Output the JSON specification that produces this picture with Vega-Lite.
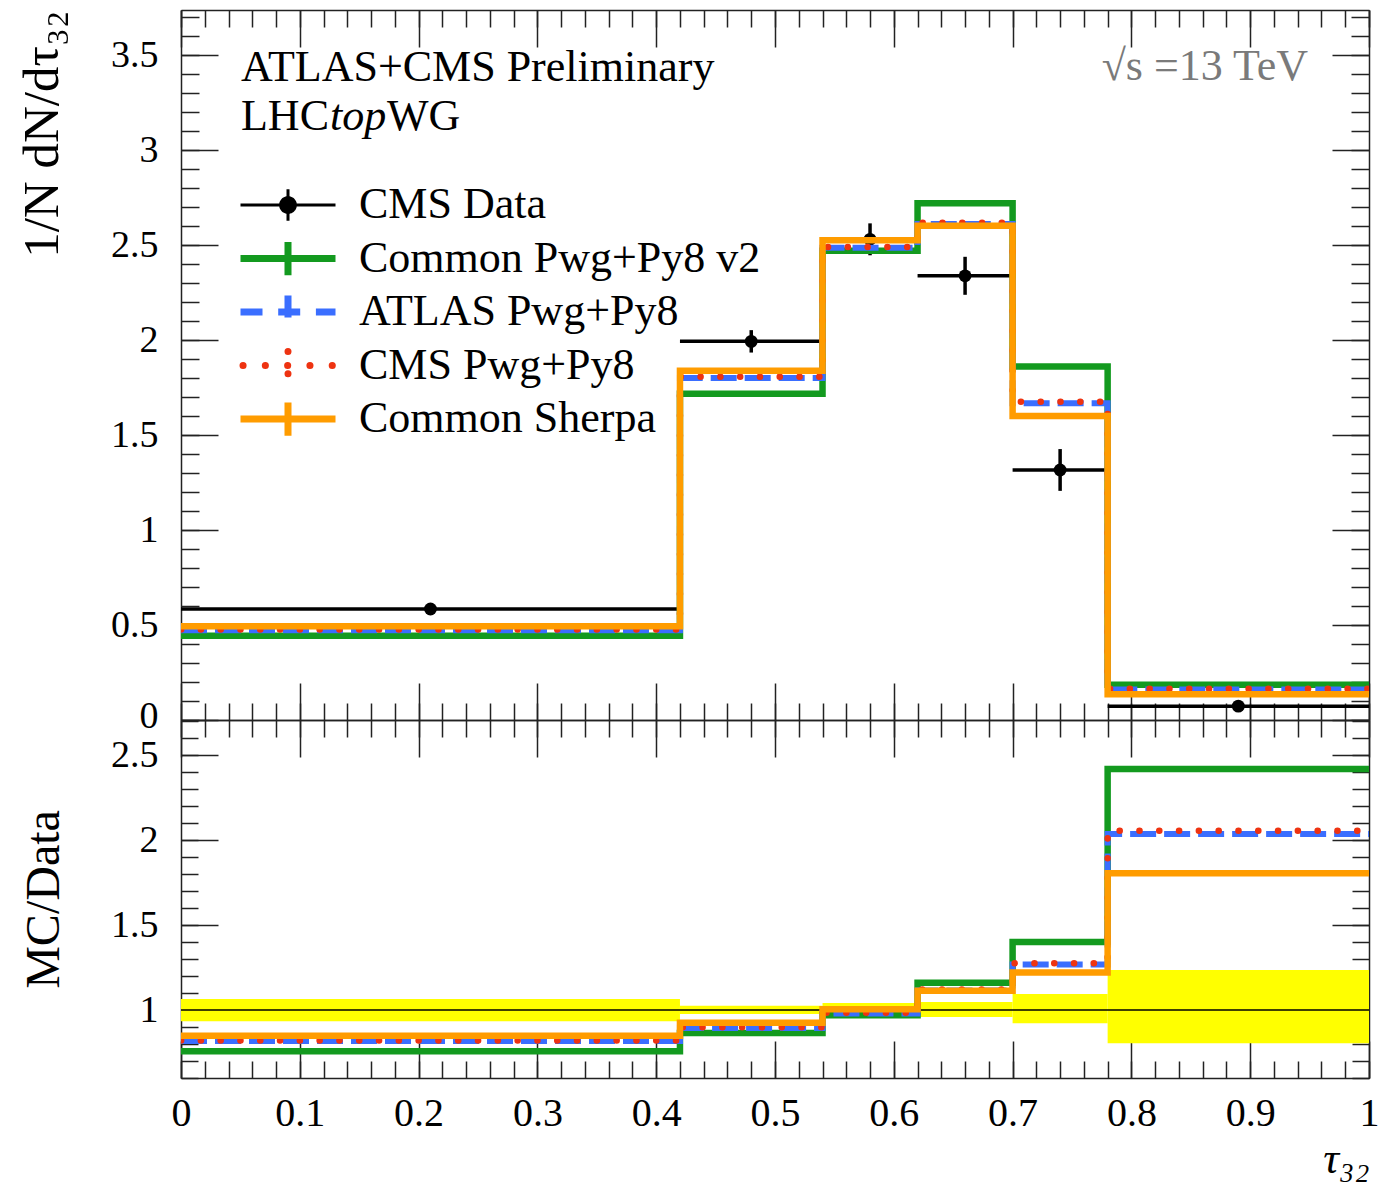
{
  "$schema": "https://vega.github.io/schema/vega-lite/v6.json",
  "width": 1188,
  "height": 1068,
  "autosize": {"type": "none"},
  "padding": {"left": 181, "top": 10, "right": 9, "bottom": 107},
  "background": "white",
  "config": {
    "view": {"stroke": null},
    "font": "Liberation Serif",
    "axis": {
      "grid": false, "domainColor": "#222", "domainWidth": 1.5, "tickColor": "#222", "tickWidth": 1.5,
      "labelFont": "Liberation Serif", "labelFontSize": 40, "labelColor": "#000", "labelFlush": false, "labelOverlap": false,
      "titleFont": "Liberation Serif", "titleFontWeight": "normal", "titleColor": "#000", "titleFontSize": 48, "format": "~g"
    }
  },
  "datasets": {
    "hist": [
      {"model": "Common Pwg+Py8 v2", "x": 0, "y": 0.443}, {"model": "Common Pwg+Py8 v2", "x": 0.42, "y": 1.717}, {"model": "Common Pwg+Py8 v2", "x": 0.54, "y": 2.47}, {"model": "Common Pwg+Py8 v2", "x": 0.62, "y": 2.72}, {"model": "Common Pwg+Py8 v2", "x": 0.70, "y": 1.86}, {"model": "Common Pwg+Py8 v2", "x": 0.78, "y": 0.185}, {"model": "Common Pwg+Py8 v2", "x": 1.0, "y": 0.185},
      {"model": "ATLAS Pwg+Py8", "x": 0, "y": 0.472}, {"model": "ATLAS Pwg+Py8", "x": 0.42, "y": 1.800}, {"model": "ATLAS Pwg+Py8", "x": 0.54, "y": 2.485}, {"model": "ATLAS Pwg+Py8", "x": 0.62, "y": 2.610}, {"model": "ATLAS Pwg+Py8", "x": 0.70, "y": 1.667}, {"model": "ATLAS Pwg+Py8", "x": 0.78, "y": 0.160}, {"model": "ATLAS Pwg+Py8", "x": 1.0, "y": 0.160},
      {"model": "CMS Pwg+Py8", "x": 0, "y": 0.476}, {"model": "CMS Pwg+Py8", "x": 0.42, "y": 1.806}, {"model": "CMS Pwg+Py8", "x": 0.54, "y": 2.490}, {"model": "CMS Pwg+Py8", "x": 0.62, "y": 2.617}, {"model": "CMS Pwg+Py8", "x": 0.70, "y": 1.675}, {"model": "CMS Pwg+Py8", "x": 0.78, "y": 0.164}, {"model": "CMS Pwg+Py8", "x": 1.0, "y": 0.164},
      {"model": "Common Sherpa", "x": 0, "y": 0.493}, {"model": "Common Sherpa", "x": 0.42, "y": 1.838}, {"model": "Common Sherpa", "x": 0.54, "y": 2.525}, {"model": "Common Sherpa", "x": 0.62, "y": 2.602}, {"model": "Common Sherpa", "x": 0.70, "y": 1.600}, {"model": "Common Sherpa", "x": 0.78, "y": 0.135}, {"model": "Common Sherpa", "x": 1.0, "y": 0.135}
    ],
    "ratio": [
      {"model": "Common Pwg+Py8 v2", "x": 0, "r": 0.757}, {"model": "Common Pwg+Py8 v2", "x": 0.42, "r": 0.865}, {"model": "Common Pwg+Py8 v2", "x": 0.54, "r": 0.969}, {"model": "Common Pwg+Py8 v2", "x": 0.62, "r": 1.160}, {"model": "Common Pwg+Py8 v2", "x": 0.70, "r": 1.400}, {"model": "Common Pwg+Py8 v2", "x": 0.78, "r": 2.418}, {"model": "Common Pwg+Py8 v2", "x": 1.0, "r": 2.418},
      {"model": "ATLAS Pwg+Py8", "x": 0, "r": 0.818}, {"model": "ATLAS Pwg+Py8", "x": 0.42, "r": 0.894}, {"model": "ATLAS Pwg+Py8", "x": 0.54, "r": 0.980}, {"model": "ATLAS Pwg+Py8", "x": 0.62, "r": 1.115}, {"model": "ATLAS Pwg+Py8", "x": 0.70, "r": 1.267}, {"model": "ATLAS Pwg+Py8", "x": 0.78, "r": 2.035}, {"model": "ATLAS Pwg+Py8", "x": 1.0, "r": 2.035},
      {"model": "CMS Pwg+Py8", "x": 0, "r": 0.821}, {"model": "CMS Pwg+Py8", "x": 0.42, "r": 0.898}, {"model": "CMS Pwg+Py8", "x": 0.54, "r": 0.984}, {"model": "CMS Pwg+Py8", "x": 0.62, "r": 1.120}, {"model": "CMS Pwg+Py8", "x": 0.70, "r": 1.275}, {"model": "CMS Pwg+Py8", "x": 0.78, "r": 2.055}, {"model": "CMS Pwg+Py8", "x": 1.0, "r": 2.055},
      {"model": "Common Sherpa", "x": 0, "r": 0.849}, {"model": "Common Sherpa", "x": 0.42, "r": 0.925}, {"model": "Common Sherpa", "x": 0.54, "r": 1.004}, {"model": "Common Sherpa", "x": 0.62, "r": 1.114}, {"model": "Common Sherpa", "x": 0.70, "r": 1.220}, {"model": "Common Sherpa", "x": 0.78, "r": 1.804}, {"model": "Common Sherpa", "x": 1.0, "r": 1.804}
    ],
    "pts": [
      {"x": 0.21, "xlo": 0, "xhi": 0.42, "y": 0.584, "ylo": 0.576, "yhi": 0.592},
      {"x": 0.48, "xlo": 0.42, "xhi": 0.54, "y": 1.993, "ylo": 1.934, "yhi": 2.052},
      {"x": 0.58, "xlo": 0.54, "xhi": 0.62, "y": 2.530, "ylo": 2.446, "yhi": 2.614},
      {"x": 0.66, "xlo": 0.62, "xhi": 0.70, "y": 2.338, "ylo": 2.238, "yhi": 2.438},
      {"x": 0.74, "xlo": 0.70, "xhi": 0.78, "y": 1.316, "ylo": 1.206, "yhi": 1.426},
      {"x": 0.89, "xlo": 0.78, "xhi": 1.0, "y": 0.073, "ylo": 0.069, "yhi": 0.077}
    ],
    "band": [
      {"xlo": 0, "xhi": 0.42, "lo": 0.934, "hi": 1.064},
      {"xlo": 0.42, "xhi": 0.54, "lo": 0.977, "hi": 1.025},
      {"xlo": 0.54, "xhi": 0.62, "lo": 0.961, "hi": 1.041},
      {"xlo": 0.62, "xhi": 0.70, "lo": 0.959, "hi": 1.047},
      {"xlo": 0.70, "xhi": 0.78, "lo": 0.922, "hi": 1.094},
      {"xlo": 0.78, "xhi": 1.0, "lo": 0.804, "hi": 1.235}
    ],
    "ref": [{"r": 1}],
    "notes": [
      {"label": "ATLAS+CMS Preliminary"}, {"label": "LHC"}, {"label": "top"}, {"label": "WG"}, {"label": "√s =13 TeV"}
    ]
  },
  "resolve": {"scale": {"y": "independent"}, "axis": {"x": "independent", "y": "independent"}},
  "layer": [
    {
      "resolve": {"axis": {"x": "independent", "y": "independent"}},
      "layer": [
        {
          "data": {"name": "pts"},
          "mark": {"type": "rule", "strokeWidth": 3.5, "color": "#000"},
          "encoding": {
            "x": {"field": "xlo", "type": "quantitative", "scale": {"domain": [0, 1], "nice": false, "zero": false},
              "axis": {"orient": "bottom", "offset": -358, "values": [0,0.1,0.2,0.3,0.4,0.5,0.6,0.7,0.8,0.9,1], "tickSize": -37, "labels": false, "title": null}},
            "x2": {"field": "xhi"},
            "y": {"field": "y", "type": "quantitative", "scale": {"domain": [0, 3.737], "range": [710, 0], "nice": false, "zero": false},
              "axis": {"orient": "left", "values": [0,0.5,1,1.5,2,2.5,3,3.5], "tickSize": -37, "labelPadding": 60, "labelFontSize": 38,
                "labelOffset": {"condition": {"test": "datum.value === 0", "value": -4}, "value": 0},
                "title": "1/N dN/dτ₃₂", "titleFontSize": 51, "titleX": -124, "titleY": 0, "titleAlign": "right", "titleBaseline": "alphabetic", "titleAngle": -90}}
          }
        },
        {
          "data": {"name": "pts"},
          "mark": {"type": "rule", "strokeWidth": 3.5, "color": "#000"},
          "encoding": {
            "x": {"field": "x", "type": "quantitative", "scale": {"domain": [0, 1], "nice": false, "zero": false},
              "axis": {"orient": "bottom", "offset": -358, "values": [0,0.02,0.04,0.06,0.08,0.1,0.12,0.14,0.16,0.18,0.2,0.22,0.24,0.26,0.28,0.3,0.32,0.34,0.36,0.38,0.4,0.42,0.44,0.46,0.48,0.5,0.52,0.54,0.56,0.58,0.6,0.62,0.64,0.66,0.68,0.7,0.72,0.74,0.76,0.78,0.8,0.82,0.84,0.86,0.88,0.9,0.92,0.94,0.96,0.98,1], "tickSize": -17, "labels": false, "domain": false, "title": null}},
            "y": {"field": "ylo", "type": "quantitative", "scale": {"domain": [0, 3.737], "range": [710, 0], "nice": false, "zero": false},
              "axis": {"orient": "left", "values": [0,0.1,0.2,0.3,0.4,0.5,0.6,0.7,0.8,0.9,1,1.1,1.2,1.3,1.4,1.5,1.6,1.7,1.8,1.9,2,2.1,2.2,2.3,2.4,2.5,2.6,2.7,2.8,2.9,3,3.1,3.2,3.3,3.4,3.5,3.6,3.7], "tickSize": -18, "labels": false, "domain": false, "title": null}},
            "y2": {"field": "yhi"}
          }
        },
        {
          "data": {"name": "pts"},
          "mark": {"type": "point", "shape": "circle", "filled": true, "size": 165, "color": "#000", "opacity": 1},
          "encoding": {
            "x": {"field": "x", "type": "quantitative", "scale": {"domain": [0, 1], "nice": false, "zero": false},
              "axis": {"orient": "top", "values": [0,0.1,0.2,0.3,0.4,0.5,0.6,0.7,0.8,0.9,1], "tickSize": -37, "labels": false, "title": null}},
            "y": {"field": "y", "type": "quantitative", "scale": {"domain": [0, 3.737], "range": [710, 0], "nice": false, "zero": false},
              "axis": {"orient": "right", "values": [0,0.5,1,1.5,2,2.5,3,3.5], "tickSize": -37, "labels": false, "title": null}}
          }
        },
        {
          "data": {"name": "hist"},
          "transform": [{"filter": "datum.model === 'Common Pwg+Py8 v2'"}],
          "mark": {"type": "line", "interpolate": "step-after", "strokeWidth": 6.5},
          "encoding": {
            "x": {"field": "x", "type": "quantitative", "scale": {"domain": [0, 1], "nice": false, "zero": false},
              "axis": {"orient": "top", "values": [0,0.02,0.04,0.06,0.08,0.1,0.12,0.14,0.16,0.18,0.2,0.22,0.24,0.26,0.28,0.3,0.32,0.34,0.36,0.38,0.4,0.42,0.44,0.46,0.48,0.5,0.52,0.54,0.56,0.58,0.6,0.62,0.64,0.66,0.68,0.7,0.72,0.74,0.76,0.78,0.8,0.82,0.84,0.86,0.88,0.9,0.92,0.94,0.96,0.98,1], "tickSize": -17, "labels": false, "domain": false, "title": null}},
            "y": {"field": "y", "type": "quantitative", "scale": {"domain": [0, 3.737], "range": [710, 0], "nice": false, "zero": false},
              "axis": {"orient": "right", "values": [0,0.1,0.2,0.3,0.4,0.5,0.6,0.7,0.8,0.9,1,1.1,1.2,1.3,1.4,1.5,1.6,1.7,1.8,1.9,2,2.1,2.2,2.3,2.4,2.5,2.6,2.7,2.8,2.9,3,3.1,3.2,3.3,3.4,3.5,3.6,3.7], "tickSize": -18, "labels": false, "domain": false, "title": null}},
            "color": {"field": "model", "type": "nominal",
              "scale": {"domain": ["CMS Data", "Common Pwg+Py8 v2", "ATLAS Pwg+Py8", "CMS Pwg+Py8", "Common Sherpa"], "range": ["#000000", "#139A1F", "#3A6EFF", "#EE3311", "#FF9C00"]},
              "legend": {
                "orient": "none", "legendX": 85, "legendY": 173, "title": null, "padding": 0, "offset": 0,
                "symbolType": "M-1,0H1M0,-0.35V0.35", "symbolSize": 9025, "symbolStrokeWidth": 7,
                "labelFont": "Liberation Serif", "labelFontSize": 44, "labelColor": "#000", "labelOffset": 49, "labelLimit": 0, "rowPadding": 9.5,
                "encode": {"symbols": {"update": {
                  "shape": {"signal": "datum.value === 'CMS Data' ? 'M-1,0H1M0,-0.33V0.33M-0.155,0A0.155,0.155 0 1 1 0.155,0A0.155,0.155 0 1 1 -0.155,0Z' : 'M-1,0H1M0,-0.35V0.35'"},
                  "fill": {"signal": "datum.value === 'CMS Data' ? '#000' : 'transparent'"},
                  "strokeWidth": {"signal": "datum.value === 'CMS Data' ? 3 : 7"},
                  "strokeDash": {"signal": "datum.value === 'ATLAS Pwg+Py8' ? [22, 15.7] : datum.value === 'CMS Pwg+Py8' ? [0.1, 22.2] : [1, 0]"},
                  "strokeDashOffset": {"signal": "datum.value === 'CMS Pwg+Py8' ? -2.5 : 0"},
                  "strokeCap": {"signal": "datum.value === 'CMS Pwg+Py8' ? 'round' : 'butt'"},
                  "strokeJoin": {"value": "round"}
                }}}
              }}
          }
        },
        {
          "data": {"name": "hist"},
          "transform": [{"filter": "datum.model === 'ATLAS Pwg+Py8'"}],
          "mark": {"type": "line", "interpolate": "step-after", "strokeWidth": 6, "color": "#3A6EFF", "strokeDash": [26, 8]},
          "encoding": {
            "x": {"field": "x", "type": "quantitative", "axis": null},
            "y": {"field": "y", "type": "quantitative", "axis": null}
          }
        },
        {
          "data": {"name": "hist"},
          "transform": [{"filter": "datum.model === 'CMS Pwg+Py8'"}],
          "mark": {"type": "line", "interpolate": "step-after", "strokeWidth": 6.5, "color": "#EE3311", "strokeDash": [0.1, 19.7], "strokeCap": "round", "clip": true},
          "encoding": {
            "x": {"field": "x", "type": "quantitative", "axis": null},
            "y": {"field": "y", "type": "quantitative", "axis": null}
          }
        },
        {
          "data": {"name": "hist"},
          "transform": [{"filter": "datum.model === 'Common Sherpa'"}],
          "mark": {"type": "line", "interpolate": "step-after", "strokeWidth": 6.5, "color": "#FF9C00"},
          "encoding": {
            "x": {"field": "x", "type": "quantitative", "axis": null},
            "y": {"field": "y", "type": "quantitative", "axis": null}
          }
        },
        {
          "data": {"name": "notes"},
          "transform": [{"filter": "datum.label === 'ATLAS+CMS Preliminary'"}],
          "mark": {"type": "text", "align": "left", "baseline": "alphabetic", "fontSize": 44, "font": "Liberation Serif", "color": "#000"},
          "encoding": {"x": {"datum": 0.0505, "type": "quantitative", "axis": null}, "y": {"datum": 3.365, "type": "quantitative", "axis": null}, "text": {"field": "label"}}
        },
        {
          "data": {"name": "notes"},
          "transform": [{"filter": "datum.label === 'LHC'"}],
          "mark": {"type": "text", "align": "left", "baseline": "alphabetic", "fontSize": 44, "font": "Liberation Serif", "color": "#000"},
          "encoding": {"x": {"datum": 0.0505, "type": "quantitative", "axis": null}, "y": {"datum": 3.105, "type": "quantitative", "axis": null}, "text": {"field": "label"}}
        },
        {
          "data": {"name": "notes"},
          "transform": [{"filter": "datum.label === 'top'"}],
          "mark": {"type": "text", "align": "left", "baseline": "alphabetic", "fontSize": 44, "font": "Liberation Serif", "fontStyle": "italic", "color": "#000", "dx": 89},
          "encoding": {"x": {"datum": 0.0505, "type": "quantitative", "axis": null}, "y": {"datum": 3.105, "type": "quantitative", "axis": null}, "text": {"field": "label"}}
        },
        {
          "data": {"name": "notes"},
          "transform": [{"filter": "datum.label === 'WG'"}],
          "mark": {"type": "text", "align": "left", "baseline": "alphabetic", "fontSize": 44, "font": "Liberation Serif", "color": "#000", "dx": 146},
          "encoding": {"x": {"datum": 0.0505, "type": "quantitative", "axis": null}, "y": {"datum": 3.105, "type": "quantitative", "axis": null}, "text": {"field": "label"}}
        },
        {
          "data": {"name": "notes"},
          "transform": [{"filter": "datum.label === '√s =13 TeV'"}],
          "mark": {"type": "text", "align": "right", "baseline": "alphabetic", "fontSize": 44, "font": "Liberation Serif", "color": "#7a7a7a"},
          "encoding": {"x": {"datum": 0.9487, "type": "quantitative", "axis": null}, "y": {"datum": 3.368, "type": "quantitative", "axis": null}, "text": {"field": "label"}}
        }
      ]
    },
    {
      "resolve": {"axis": {"x": "independent", "y": "independent"}},
      "layer": [
        {
          "data": {"name": "band"},
          "mark": {"type": "rect", "color": "#FFFF00", "opacity": 1},
          "encoding": {
            "x": {"field": "xlo", "type": "quantitative", "scale": {"domain": [0, 1], "nice": false, "zero": false},
              "axis": {"orient": "bottom", "values": [0,0.1,0.2,0.3,0.4,0.5,0.6,0.7,0.8,0.9,1], "tickSize": -37, "labelPadding": 52, "title": "τ₃₂", "titleFontSize": 44, "titleFontStyle": "italic", "titleX": 1188, "titleY": 94, "titleAlign": "right", "titleBaseline": "alphabetic"}},
            "x2": {"field": "xhi"},
            "y": {"field": "lo", "type": "quantitative", "scale": {"domain": [0.6, 2.706], "range": [1068, 710], "nice": false, "zero": false},
              "axis": {"orient": "left", "values": [1,1.5,2,2.5], "tickSize": -37, "labelPadding": 60, "labelFontSize": 38, "title": "MC/Data", "titleX": -123, "titleBaseline": "alphabetic", "titleAngle": -90}},
            "y2": {"field": "hi"}
          }
        },
        {
          "data": {"name": "ref"},
          "mark": {"type": "rule", "color": "#000", "strokeWidth": 1.5},
          "encoding": {
            "x": {"datum": 0, "type": "quantitative", "scale": {"domain": [0, 1], "nice": false, "zero": false},
              "axis": {"orient": "bottom", "values": [0,0.02,0.04,0.06,0.08,0.1,0.12,0.14,0.16,0.18,0.2,0.22,0.24,0.26,0.28,0.3,0.32,0.34,0.36,0.38,0.4,0.42,0.44,0.46,0.48,0.5,0.52,0.54,0.56,0.58,0.6,0.62,0.64,0.66,0.68,0.7,0.72,0.74,0.76,0.78,0.8,0.82,0.84,0.86,0.88,0.9,0.92,0.94,0.96,0.98,1], "tickSize": -17, "labels": false, "domain": false, "title": null}},
            "x2": {"datum": 1},
            "y": {"field": "r", "type": "quantitative", "scale": {"domain": [0.6, 2.706], "range": [1068, 710], "nice": false, "zero": false},
              "axis": {"orient": "left", "values": [0.6,0.7,0.8,0.9,1,1.1,1.2,1.3,1.4,1.5,1.6,1.7,1.8,1.9,2,2.1,2.2,2.3,2.4,2.5,2.6,2.7], "tickSize": -17, "labels": false, "domain": false, "title": null}}
          }
        },
        {
          "data": {"name": "ratio"},
          "transform": [{"filter": "datum.model === 'Common Pwg+Py8 v2'"}],
          "mark": {"type": "line", "interpolate": "step-after", "strokeWidth": 6.5, "color": "#139A1F"},
          "encoding": {
            "x": {"field": "x", "type": "quantitative", "scale": {"domain": [0, 1], "nice": false, "zero": false},
              "axis": {"orient": "top", "offset": -710, "values": [0,0.1,0.2,0.3,0.4,0.5,0.6,0.7,0.8,0.9,1], "tickSize": -37, "labels": false, "title": null}},
            "y": {"field": "r", "type": "quantitative", "scale": {"domain": [0.6, 2.706], "range": [1068, 710], "nice": false, "zero": false},
              "axis": {"orient": "right", "values": [1,1.5,2,2.5], "tickSize": -37, "labels": false, "title": null}}
          }
        },
        {
          "data": {"name": "ratio"},
          "transform": [{"filter": "datum.model === 'ATLAS Pwg+Py8'"}],
          "mark": {"type": "line", "interpolate": "step-after", "strokeWidth": 6, "color": "#3A6EFF", "strokeDash": [26, 8]},
          "encoding": {
            "x": {"field": "x", "type": "quantitative", "scale": {"domain": [0, 1], "nice": false, "zero": false},
              "axis": {"orient": "top", "offset": -710, "values": [0,0.02,0.04,0.06,0.08,0.1,0.12,0.14,0.16,0.18,0.2,0.22,0.24,0.26,0.28,0.3,0.32,0.34,0.36,0.38,0.4,0.42,0.44,0.46,0.48,0.5,0.52,0.54,0.56,0.58,0.6,0.62,0.64,0.66,0.68,0.7,0.72,0.74,0.76,0.78,0.8,0.82,0.84,0.86,0.88,0.9,0.92,0.94,0.96,0.98,1], "tickSize": -17, "labels": false, "domain": false, "title": null}},
            "y": {"field": "r", "type": "quantitative", "scale": {"domain": [0.6, 2.706], "range": [1068, 710], "nice": false, "zero": false},
              "axis": {"orient": "right", "values": [0.6,0.7,0.8,0.9,1,1.1,1.2,1.3,1.4,1.5,1.6,1.7,1.8,1.9,2,2.1,2.2,2.3,2.4,2.5,2.6,2.7], "tickSize": -17, "labels": false, "domain": false, "title": null}}
          }
        },
        {
          "data": {"name": "ratio"},
          "transform": [{"filter": "datum.model === 'CMS Pwg+Py8'"}],
          "mark": {"type": "line", "interpolate": "step-after", "strokeWidth": 6.5, "color": "#EE3311", "strokeDash": [0.1, 19.7], "strokeCap": "round", "clip": true},
          "encoding": {
            "x": {"field": "x", "type": "quantitative", "axis": null},
            "y": {"field": "r", "type": "quantitative", "axis": null}
          }
        },
        {
          "data": {"name": "ratio"},
          "transform": [{"filter": "datum.model === 'Common Sherpa'"}],
          "mark": {"type": "line", "interpolate": "step-after", "strokeWidth": 6.5, "color": "#FF9C00"},
          "encoding": {
            "x": {"field": "x", "type": "quantitative", "axis": null},
            "y": {"field": "r", "type": "quantitative", "axis": null}
          }
        }
      ]
    }
  ]
}
